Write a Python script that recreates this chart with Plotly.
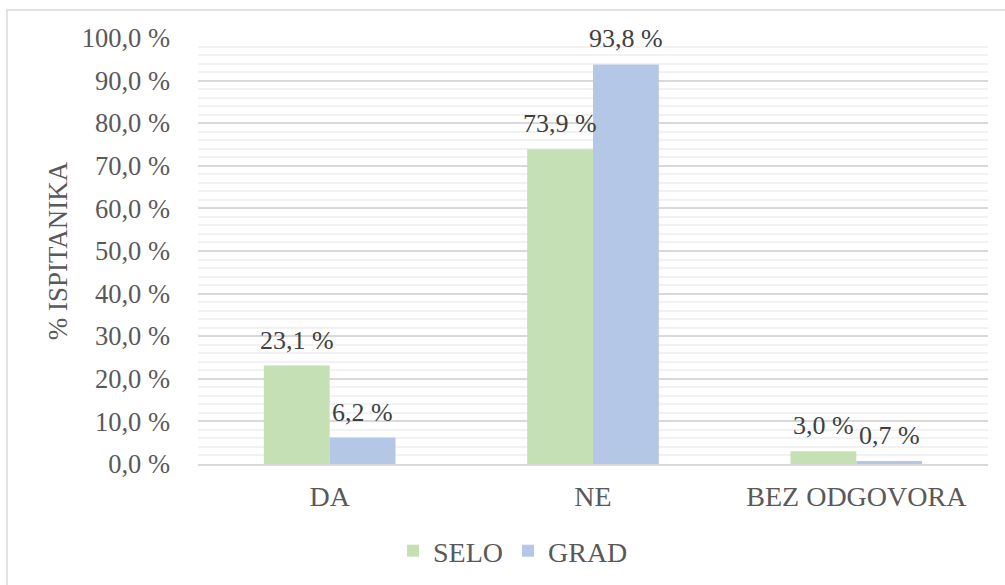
import plotly.graph_objects as go

categories = ["DA", "NE", "BEZ ODGOVORA"]
selo = [23.1, 73.9, 3.0]
grad = [6.2, 93.8, 0.7]
series_names = ["SELO", "GRAD"]
y_title = "% ISPITANIKA"

def lab(vals):
    return [f"{v:.1f} %".replace(".", ",") for v in vals]

FONT = "Liberation Serif"
TXT = "#595959"

L, R, T, B = 198, 17, 38, 121
W, H = 1005, 585
pw = W - L - R
ph = H - T - B
bar_px = pw / len(categories) * 0.5 / 2

fig = go.Figure()
colors = ["#C5E0B4", "#B4C7E7"]
for name, vals, col in zip(series_names, [selo, grad], colors):
    fig.add_trace(go.Bar(x=categories, y=vals, name=name, marker_color=col,
                         marker_line_width=0))

for k, vals in enumerate([selo, grad]):
    shift = (k - 0.5) * bar_px
    for c, v, t in zip(categories, vals, lab(vals)):
        fig.add_annotation(x=c, y=v, xref="x", yref="y", text=t, showarrow=False,
                           xshift=shift, yshift=9, yanchor="bottom", xanchor="center",
                           font=dict(family=FONT, size=26, color="#404040"))

fig.update_layout(
    width=W, height=H,
    margin=dict(l=L, r=R, t=T, b=B, autoexpand=False),
    paper_bgcolor="white", plot_bgcolor="white",
    font=dict(family=FONT, size=26, color=TXT),
    separators=", ",
    barmode="group", bargap=0.5, bargroupgap=0,
    showlegend=True,
    legend=dict(orientation="h", xanchor="center", yanchor="middle",
                x=(513 - L) / pw, y=(T + ph - 551) / ph,
                font=dict(family=FONT, size=28, color=TXT), bgcolor="rgba(0,0,0,0)"),
    xaxis=dict(showline=True, linecolor="#D9D9D9", linewidth=1.5, ticks="",
               ticklabelstandoff=7,
               tickfont=dict(family=FONT, size=28, color=TXT), showgrid=False),
    yaxis=dict(range=[0, 100], dtick=10, tickformat=".1f", ticksuffix=" %",
               showgrid=True, gridcolor="#D9D9D9", gridwidth=1.5,
               zeroline=False, showline=False, ticks="", ticklabelstandoff=27,
               tickfont=dict(family=FONT, size=26.5, color=TXT),
               minor=dict(dtick=2, showgrid=True, gridcolor="#F2F2F2", gridwidth=1.5),
               title=dict(text=y_title, font=dict(family=FONT, size=27, color=TXT), standoff=6)),
)

fig.add_shape(type="rect", xref="paper", yref="paper",
              x0=(7 - L) / pw, x1=(1010 - L) / pw,
              y0=(T + ph - 590) / ph, y1=(T + ph - 10) / ph,
              line=dict(color="#D9D9D9", width=1.5), fillcolor="rgba(0,0,0,0)", layer="below")

fig.write_html("out.html", config={"displayModeBar": False},
               post_script="document.body.style.margin='0px';")
